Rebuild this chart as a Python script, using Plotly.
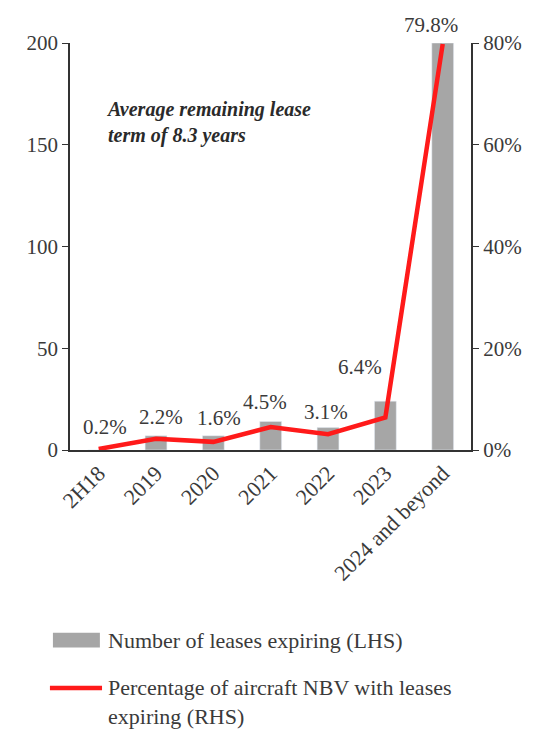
import plotly.graph_objects as go
from plotly.subplots import make_subplots

# Lease expiry profile
periods = ["2H18", "2019", "2020", "2021", "2022", "2023", "2024 and beyond"]
leases_expiring = [0, 7, 7, 14, 11, 24, 200]
nbv_pct = [0.2, 2.2, 1.6, 4.5, 3.1, 6.4, 79.8]

left_ticks = [0, 50, 100, 150, 200]
right_ticks = [0, 20, 40, 60, 80]
right_tick_labels = ["0%", "20%", "40%", "60%", "80%"]

# label offsets (pixels) for the percentage labels
label_dx = [6, 5, 6, -6, -2, -25, -12]
label_dy = [22, 22, 24, 25, 22, 50, 19]

FONT = "Liberation Serif"
TXT = "#3a3a3a"
BAR = "#a6a6a6"
RED = "#ff1a1a"

fig = make_subplots(specs=[[{"secondary_y": True}]])

fig.add_trace(
    go.Bar(x=periods, y=leases_expiring, marker_color=BAR, width=0.38,
           name="Number of leases expiring (LHS)", showlegend=False),
    secondary_y=False,
)
fig.add_trace(
    go.Scatter(x=periods, y=nbv_pct, mode="lines",
               line=dict(color=RED, width=4.5),
               name="Percentage of aircraft NBV with leases expiring (RHS)",
               showlegend=False),
    secondary_y=True,
)

# percentage labels, placed by category index
for i, (v, dx, dy) in enumerate(zip(nbv_pct, label_dx, label_dy)):
    fig.add_annotation(x=i, y=v, xref="x", yref="y2", text=f"{v:.1f}%",
                       showarrow=False, xshift=dx, yshift=dy,
                       font=dict(family=FONT, size=21, color=TXT))

# In-chart note
fig.add_annotation(x=0.080, y=0.805, xref="paper", yref="paper",
                   xanchor="left", yanchor="middle", align="left",
                   text="<b><i>Average remaining lease<br>term of 8.3 years</i></b>",
                   showarrow=False,
                   font=dict(family=FONT, size=20, color="#2a2a2a"))

# Legend drawn below the plot
fig.add_shape(type="rect", xref="paper", yref="paper",
              x0=-0.040, x1=0.070, y0=-0.485, y1=-0.449,
              fillcolor=BAR, line=dict(width=0))
fig.add_annotation(x=0.084, y=-0.467, xref="paper", yref="paper",
                   xanchor="left", yanchor="middle", align="left",
                   text="Number of leases expiring (LHS)", showarrow=False,
                   font=dict(family=FONT, size=22, color=TXT))
fig.add_shape(type="line", xref="paper", yref="paper",
              x0=-0.047, x1=0.075, y0=-0.585, y1=-0.585,
              line=dict(color=RED, width=4.5))
fig.add_annotation(x=0.084, y=-0.620, xref="paper", yref="paper",
                   xanchor="left", yanchor="middle", align="left",
                   text="Percentage of aircraft NBV with leases<br>expiring (RHS)",
                   showarrow=False,
                   font=dict(family=FONT, size=22, color=TXT))

fig.update_xaxes(
    type="category", range=[-0.5, 6.5], tickangle=-45,
    showline=True, linecolor="#333", linewidth=1.5, ticks="",
    tickfont=dict(family=FONT, size=22, color=TXT), showgrid=False,
)
fig.update_yaxes(
    range=[0, 200], tickvals=left_ticks, ticks="outside", ticklen=6,
    tickcolor="#333", showline=True, linecolor="#333", linewidth=1.5,
    showgrid=False, zeroline=False,
    tickfont=dict(family=FONT, size=21, color=TXT), secondary_y=False,
)
fig.update_yaxes(
    range=[0, 80], tickvals=right_ticks, ticktext=right_tick_labels,
    ticks="outside", ticklen=6, tickcolor="#333",
    showline=True, linecolor="#333", linewidth=1.5,
    showgrid=False, zeroline=False,
    tickfont=dict(family=FONT, size=21, color=TXT), secondary_y=True,
)

fig.update_layout(
    width=560, height=729,
    margin=dict(l=70, r=63, t=43, b=279),
    paper_bgcolor="white", plot_bgcolor="white",
    showlegend=False, bargap=0.6,
)

fig.write_html("out.html")
